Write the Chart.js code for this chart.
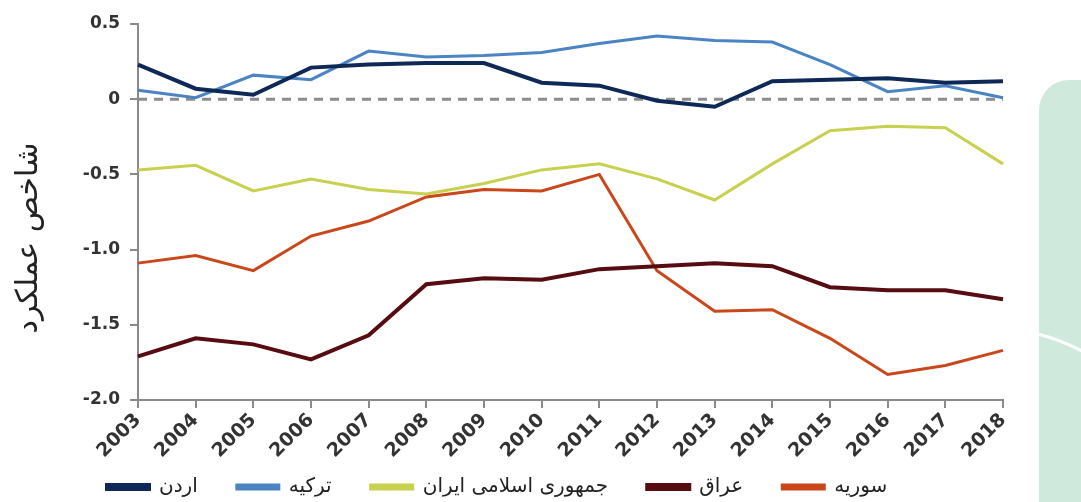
<!DOCTYPE html>
<html>
<head>
<meta charset="utf-8">
<script src="https://cdn.jsdelivr.net/npm/chart.js@4.4.1/dist/chart.umd.min.js"></script>
<style>
  html, body { margin: 0; padding: 0; background: #fff; }
  #wrap { position: relative; width: 1081px; height: 502px; overflow: hidden; }
  #chartBox { position: absolute; left: 0; top: 0; width: 1081px; height: 502px; }
  #deco { position: absolute; left: 1039px; top: 80px; width: 60px; height: 440px;
          background: #cfeadd; border-top-left-radius: 30px; }
  #decoLine { position: absolute; left: 1036px; top: 330px; }
</style>
</head>
<body>
<div id="wrap">
  <div id="deco"></div>
  <svg id="decoLine" width="50" height="30"><path d="M2 4 Q 25 10 48 22" stroke="#fff" stroke-width="3" fill="none"/></svg>
  <div id="chartBox"><canvas id="chart"></canvas></div>
</div>
<script>
// --- Data ---
const years = ['2003','2004','2005','2006','2007','2008','2009','2010','2011','2012','2013','2014','2015','2016','2017','2018'];
const jordan = [0.23, 0.07, 0.03, 0.21, 0.23, 0.24, 0.24, 0.11, 0.09, -0.01, -0.05, 0.12, 0.13, 0.14, 0.11, 0.12];
const turkey = [0.06, 0.01, 0.16, 0.13, 0.32, 0.28, 0.29, 0.31, 0.37, 0.42, 0.39, 0.38, 0.23, 0.05, 0.09, 0.01];
const iran   = [-0.47, -0.44, -0.61, -0.53, -0.60, -0.63, -0.56, -0.47, -0.43, -0.53, -0.67, -0.43, -0.21, -0.18, -0.19, -0.43];
const iraq   = [-1.71, -1.59, -1.63, -1.73, -1.57, -1.23, -1.19, -1.20, -1.13, -1.11, -1.09, -1.11, -1.25, -1.27, -1.27, -1.33];
const syria  = [-1.09, -1.04, -1.14, -0.91, -0.81, -0.65, -0.60, -0.61, -0.50, -1.14, -1.41, -1.40, -1.59, -1.83, -1.77, -1.67];
const zeroLine = years.map(() => 0);

const seriesNames = ['اردن', 'ترکیه', 'جمهوری اسلامی ایران', 'عراق', 'سوریه'];
const yTitle = 'شاخص عملکرد';

const colors = ['#0e2857', '#4a84c2', '#c8d04f', '#560c10', '#c9471a'];
const widths = [4, 3, 3, 4, 3];

const faFont = "'DejaVu Sans', sans-serif";
const numFont = "'DejaVu Sans', sans-serif";

function line(label, data, i) {
    return {
        label: label,
        data: data,
        borderColor: colors[i],
        backgroundColor: colors[i],
        borderWidth: widths[i],
        pointRadius: 0,
        tension: 0,
        fill: false
    };
}

const datasets = [
    line(seriesNames[0], jordan, 0),
    line(seriesNames[1], turkey, 1),
    line(seriesNames[2], iran, 2),
    line(seriesNames[3], iraq, 3),
    line(seriesNames[4], syria, 4),
    {
        label: 'zero',
        data: zeroLine,
        borderColor: '#8c8c8c',
        borderWidth: 3,
        borderDash: [9, 7],
        pointRadius: 0,
        order: 10
    }
];

const LEGEND_PAD = 39;
const LEGEND_FONT = 20;
const X_HEIGHT = 80;

// move legend row to where the original has it
const legendPlace = {
    id: 'legendPlace',
    afterLayout(chart) {
        const lg = chart.legend;
        const h = lg.bottom - lg.top;
        lg.left = 107 - LEGEND_PAD;
        lg.top = 487 - LEGEND_FONT / 2 - LEGEND_PAD;
        lg.bottom = lg.top + h;
    }
};

// y axis title, drawn rotated left of the ticks
const yTitlePlugin = {
    id: 'yTitle',
    afterDraw(chart) {
        const ctx = chart.ctx;
        ctx.save();
        ctx.translate(29, 238);
        ctx.rotate(-Math.PI / 2);
        ctx.font = '30px ' + faFont;
        ctx.fillStyle = '#222';
        ctx.textAlign = 'center';
        ctx.textBaseline = 'middle';
        ctx.fillText(yTitle, 0, 0);
        ctx.restore();
    }
};

new Chart(document.getElementById('chart'), {
    type: 'line',
    data: { labels: years, datasets: datasets },
    plugins: [legendPlace, yTitlePlugin],
    options: {
        responsive: true,
        maintainAspectRatio: false,
        animation: false,
        layout: { padding: { left: 0, top: 24, right: 78, bottom: 502 - 400 - (LEGEND_PAD + LEGEND_FONT + 10) - X_HEIGHT } },
        plugins: {
            legend: {
                position: 'bottom',
                align: 'start',
                labels: {
                    filter: item => item.text !== 'zero',
                    boxWidth: 42,
                    boxHeight: 4,
                    padding: LEGEND_PAD,
                    color: '#222',
                    font: { family: faFont, size: LEGEND_FONT }
                }
            },
            tooltip: { enabled: false }
        },
        scales: {
            x: {
                offset: false,
                grid: { drawOnChartArea: false, color: '#8a8a8a', tickLength: 8, lineWidth: 2 },
                border: { color: '#8a8a8a', width: 2 },
                ticks: {
                    color: '#333',
                    font: { family: numFont, size: 19, weight: 'bold' },
                    maxRotation: 45,
                    minRotation: 45,
                    padding: 1
                },
                afterFit: s => { s.height = X_HEIGHT; }
            },
            y: {
                min: -2,
                max: 0.5,
                grid: { drawOnChartArea: false, color: '#8a8a8a', tickLength: 8, lineWidth: 2 },
                border: { color: '#8a8a8a', width: 2 },
                ticks: {
                    stepSize: 0.5,
                    color: '#333',
                    padding: 10,
                    font: { family: numFont, size: 17, weight: 'bold' },
                    callback: v => v === 0 ? '0' : v.toFixed(1)
                },
                afterFit: s => { s.width = 138; }
            }
        }
    }
});
</script>
</body>
</html>
